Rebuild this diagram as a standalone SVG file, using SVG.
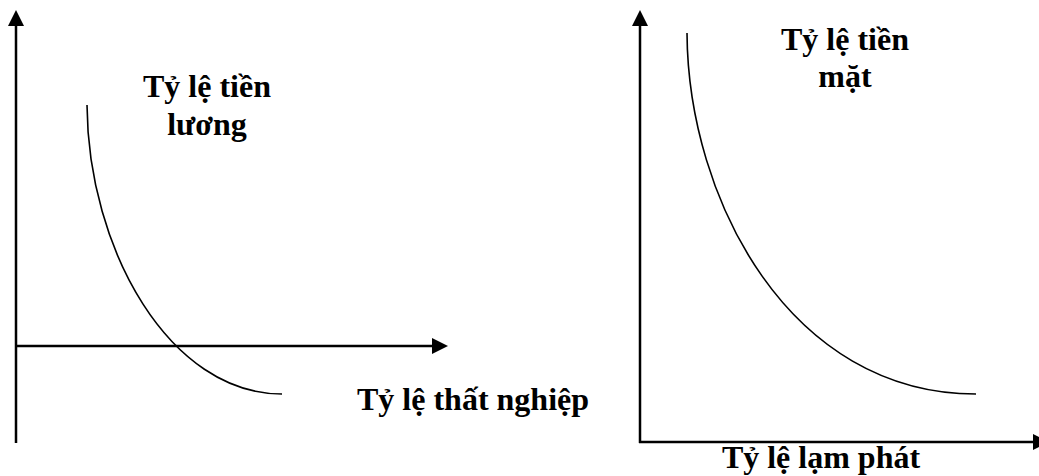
<svg xmlns="http://www.w3.org/2000/svg" width="1039" height="476" viewBox="0 0 1039 476">
  <style>
    .axis { stroke: #000; stroke-width: 2.5; fill: none; }
    .curve { stroke: #000; stroke-width: 1.6; fill: none; }
    .lbl { font-family: "Liberation Serif", "Times New Roman", serif; font-weight: bold; font-size: 32px; fill: #000; }
  </style>
  <defs>
    <marker id="arr" viewBox="0 0 16 16" refX="0" refY="8" markerWidth="16" markerHeight="16" markerUnits="userSpaceOnUse" orient="auto">
      <path d="M0,0 L16,8 L0,16 Z" fill="#000"/>
    </marker>
  </defs>
  <rect width="1039" height="476" fill="#fff"/>
  <g id="connectors">
    <line class="axis" x1="16" y1="443" x2="16" y2="26" marker-end="url(#arr)"/>
    <line class="axis" x1="15" y1="346" x2="432" y2="346" marker-end="url(#arr)"/>
    <line class="axis" x1="640" y1="443" x2="640" y2="26" marker-end="url(#arr)"/>
    <line class="axis" x1="639" y1="442" x2="1033" y2="442" marker-end="url(#arr)"/>
  </g>
  <g id="curve-left">
    <path class="curve" d="M87,105 C88,250 170,394 282,394"/>
  </g>
  <g id="curve-right">
    <path class="curve" d="M687,33 C688,200 790,394 976,394"/>
  </g>
  <g id="label-tien-luong">
    <text class="lbl" x="207" y="97" text-anchor="middle">Tỷ lệ tiền</text>
    <text class="lbl" x="207" y="135" text-anchor="middle">lương</text>
  </g>
  <g id="label-that-nghiep">
    <text class="lbl" x="357" y="410">Tỷ lệ thất nghiệp</text>
  </g>
  <g id="label-tien-mat">
    <text class="lbl" x="845" y="50" text-anchor="middle">Tỷ lệ tiền</text>
    <text class="lbl" x="845" y="87" text-anchor="middle">mặt</text>
  </g>
  <g id="label-lam-phat">
    <text class="lbl" x="821" y="468" text-anchor="middle">Tỷ lệ lạm phát</text>
  </g>
</svg>
